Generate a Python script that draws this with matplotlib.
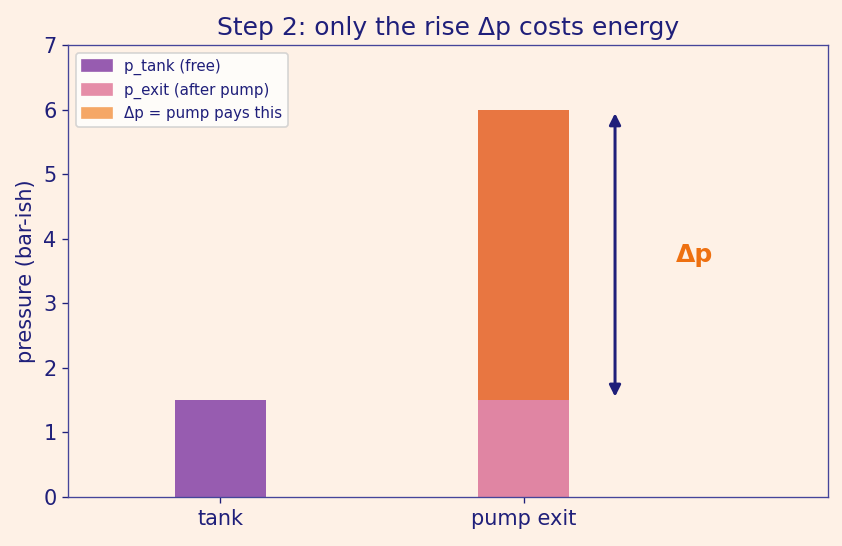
import matplotlib.pyplot as plt
from matplotlib.patches import Patch

categories = ["tank", "pump exit"]
p_tank = 1.5
p_exit = 6.0
dp = p_exit - p_tank

bg = "#fef1e6"
navy = "#1f1f7a"

fig, ax = plt.subplots(figsize=(842 / 120, 546 / 120), dpi=120)
fig.patch.set_facecolor(bg)
ax.set_facecolor(bg)

w = 0.3
ax.bar(0, p_tank, width=w, color="#975cb0")
ax.bar(1, p_tank, width=w, color="#e085a3")
ax.bar(1, dp, width=w, bottom=p_tank, color="#e87641")

ax.annotate("", xy=(1.3, p_exit), xytext=(1.3, p_tank),
            arrowprops=dict(arrowstyle="<|-|>", color=navy, lw=1.8, mutation_scale=14))
ax.text(1.5, (p_tank + p_exit) / 2, "Δp", color="#ee7010", fontsize=15,
        fontweight="bold", ha="left", va="center")

ax.set_xlim(-0.5, 2.0)
ax.set_ylim(0, 7)
ax.set_xticks([0, 1])
ax.set_xticklabels(categories)
ax.set_ylabel("pressure (bar-ish)", color=navy, fontsize=12.5)
ax.set_title("Step 2: only the rise Δp costs energy", color=navy, fontsize=15)
ax.tick_params(colors=navy, labelsize=12.5)
for s in ax.spines.values():
    s.set_color("#45459a")

handles = [Patch(color="#975cb0", label="p_tank (free)"),
           Patch(color="#e58da8", label="p_exit (after pump)"),
           Patch(color="#f5a766", label="Δp = pump pays this")]
leg = ax.legend(handles=handles, loc="upper left", fontsize=9, facecolor="white")
for t in leg.get_texts():
    t.set_color(navy)

fig.subplots_adjust(left=0.081, right=0.983, top=0.917, bottom=0.09)
fig.savefig("out.png", dpi=120, facecolor=bg)
